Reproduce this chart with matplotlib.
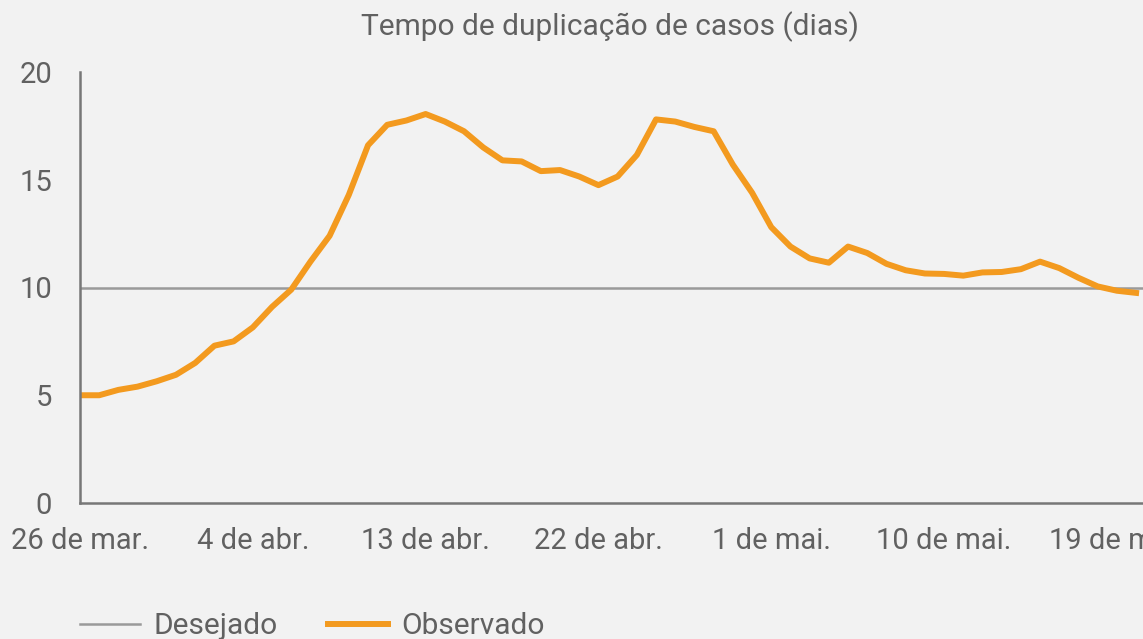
import matplotlib
matplotlib.use("Agg")
import matplotlib.pyplot as plt
import numpy as np

plt.rcParams['font.family'] = ['Roboto', 'DejaVu Sans']

days = np.arange(56)
observado = [5.0, 5.0, 5.25, 5.4, 5.65, 5.95, 6.5, 7.3, 7.5, 8.15,
             9.1, 9.9, 11.2, 12.4, 14.3, 16.6, 17.55, 17.75, 18.05, 17.7,
             17.25, 16.5, 15.9, 15.85, 15.4, 15.45, 15.15, 14.75, 15.15, 16.15,
             17.8, 17.7, 17.45, 17.25, 15.7, 14.4, 12.8, 11.9, 11.35, 11.15,
             11.9, 11.6, 11.1, 10.8, 10.65, 10.63, 10.55, 10.7, 10.72, 10.85,
             11.2, 10.9, 10.45, 10.05, 9.85, 9.75]
desejado = 10
tick_days = [0, 9, 18, 27, 36, 45, 54]
tick_labels = ["26 de mar.", "4 de abr.", "13 de abr.", "22 de abr.",
               "1 de mai.", "10 de mai.", "19 de mai."]
y_ticks = [0, 5, 10, 15, 20]

bg = '#f2f2f2'
txt = '#616161'
fig = plt.figure(figsize=(11.43, 6.39), dpi=100, facecolor=bg)
ax = fig.add_axes([80/1143, 1-503/639, 1-80/1143, (503-72)/639])
ax.set_facecolor(bg)

ax.axhline(desejado, color='#9a9a9a', lw=1.8, label='Desejado', zorder=2)
ax.plot(days, observado, color='#f39a1f', lw=4.3, label='Observado', zorder=3,
        solid_joinstyle='round')

ax.set_xlim(0, 55.36)
ax.set_ylim(0, 20)
ax.set_xticks(tick_days)
ax.set_xticklabels(tick_labels)
ax.set_yticks(y_ticks)
ax.tick_params(axis='both', length=0, labelsize=21, colors=txt)
ax.tick_params(axis='x', pad=17)
ax.tick_params(axis='y', pad=20)
for s in ['top', 'right']:
    ax.spines[s].set_visible(False)
for s in ['left', 'bottom']:
    ax.spines[s].set_color('#777777')
    ax.spines[s].set_linewidth(1.8)
ax.spines['left'].set_zorder(4)

fig.text(610/1143, 1-27/639, "Tempo de duplicação de casos (dias)", ha='center',
         va='center', fontsize=21.5, color=txt)

leg = fig.legend(loc='center left', bbox_to_anchor=(53/1143, 1-626/639), ncol=2,
                 frameon=False, fontsize=21.5, handlelength=2.0, handletextpad=0.45,
                 columnspacing=1.7, labelcolor=txt)

fig.savefig('out.png', dpi=100, facecolor=bg)
